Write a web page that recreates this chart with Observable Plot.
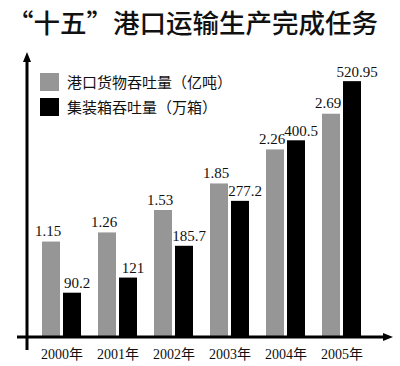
<!DOCTYPE html>
<html>
<head>
<meta charset="utf-8">
<script src="https://cdn.jsdelivr.net/npm/d3@7"></script>
<script src="https://cdn.jsdelivr.net/npm/@observablehq/plot@0.6"></script>
<style>
  html, body { margin: 0; padding: 0; background: #fff; }
  #wrap { position: relative; width: 400px; height: 366px; overflow: hidden; background: #fff; }
  #title { height: 44px; line-height: 44px; padding-left: 7px; font-family: "Noto Sans CJK SC", sans-serif; font-weight: 500; font-size: 26.5px; color: #111; white-space: nowrap; }
  .legend { position: absolute; left: 40px; font-family: "Noto Sans CJK SC", sans-serif; font-size: 15px; color: #111; display: flex; align-items: center; white-space: nowrap; }
  .legend .sw { width: 19px; height: 18px; margin-right: 8px; }
  svg { display: block; }
</style>
</head>
<body>
<div id="wrap">
  <div id="title">“十五”港口运输生产完成任务</div>
  <div id="chart"></div>
  <div id="legend"></div>
</div>
<script>
const years = ["2000", "2001", "2002", "2003", "2004", "2005"];
const cargo = [1.15, 1.26, 1.53, 1.85, 2.26, 2.69];          // 港口货物吞吐量（亿吨）
const containers = [90.2, 121, 185.7, 277.2, 400.5, 520.95]; // 集装箱吞吐量（万箱）
const seriesNames = ["港口货物吞吐量（亿吨）", "集装箱吞吐量（万箱）"];
const seriesColors = ["#969696", "#000000"];
// the two series share one drawing height: 169 万箱 draw as tall as 1 亿吨
const containersPerCargoUnit = 169;

const cargoData = years.map((year, i) => ({year, v: cargo[i]}));
const boxData = years.map((year, i) => ({year, v: containers[i]}));

const chart = Plot.plot({
  width: 400,
  height: 322,
  marginLeft: 41,
  marginRight: 39,
  marginTop: 2.5,
  marginBottom: 29,
  x: {domain: years, paddingInner: 0.306, paddingOuter: 0, label: null, tickSize: 0, tickPadding: 12, tickFormat: d => d + "年"},
  y: {domain: [0, 3.5], axis: null},
  style: {fontFamily: "'Liberation Serif', 'Noto Sans CJK SC', serif", fontSize: "14px", background: "white", color: "#111"},
  marks: [
    Plot.barY(cargoData, {x: "year", y: "v", fill: seriesColors[0], insetRight: 21}),
    Plot.barY(boxData, {x: "year", y: d => d.v / containersPerCargoUnit, fill: seriesColors[1], insetLeft: 21}),
    Plot.text(cargoData, {x: "year", y: "v", text: d => d.v.toFixed(2), dx: -14, dy: -6, lineAnchor: "bottom", fontSize: 15, fill: "#111"}),
    Plot.text(boxData, {x: "year", y: d => d.v / containersPerCargoUnit, text: d => String(d.v), dx: 15, dy: -5, lineAnchor: "bottom", fontSize: 15, fill: "#111"})
  ]
});
document.getElementById("chart").appendChild(chart);

// axis lines with arrows, positioned from the plot's own scales
const ys = chart.scale("y");
const baseY = ys.range[0];
const topY = 8;
const axisX = 27;
const svg = d3.select(chart);
const g = svg.append("g").attr("stroke", "#000").attr("stroke-width", 3).attr("fill", "#000");
g.append("line").attr("x1", axisX).attr("x2", axisX).attr("y1", baseY + 13).attr("y2", topY + 6);
g.append("path").attr("stroke", "none").attr("d", `M${axisX},${topY} L${axisX - 4},${topY + 10} L${axisX + 4},${topY + 10} Z`);
g.append("line").attr("x1", 17).attr("x2", 387).attr("y1", baseY).attr("y2", baseY);
g.append("path").attr("stroke", "none").attr("d", `M393,${baseY} L383,${baseY - 4} L383,${baseY + 4} Z`);

// legend
const legendTops = [71, 96];
const lg = document.getElementById("legend");
seriesNames.forEach((name, i) => {
  const row = document.createElement("div");
  row.className = "legend";
  row.style.top = legendTops[i] + "px";
  row.innerHTML = `<div class="sw" style="background:${seriesColors[i]}"></div><span>${name}</span>`;
  lg.appendChild(row);
});
</script>
</body>
</html>
